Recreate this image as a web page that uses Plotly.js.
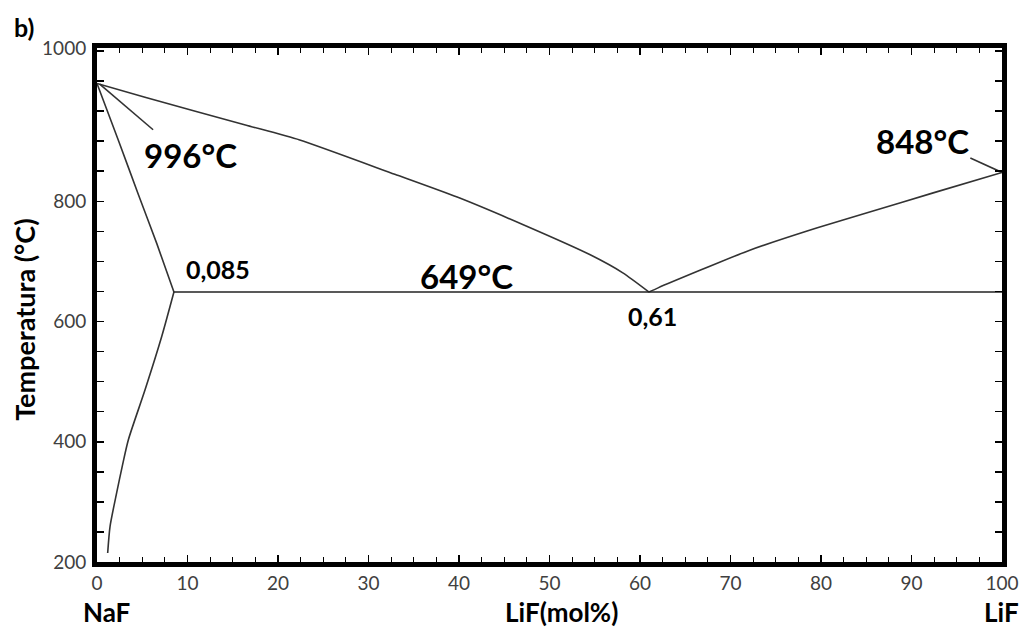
<!DOCTYPE html>
<html>
<head>
<meta charset="utf-8">
<script src="https://cdn.plot.ly/plotly-3.0.1.min.js"></script>
<style>html,body{margin:0;padding:0;background:#fff;}#chart{width:1024px;height:628px;}</style>
</head>
<body>
<div id="chart"></div>
<script>
// Liquidus, NaF side (from NaF melting point to eutectic)
var liqLeftX = [0, 5.3, 16.4, 22.4, 32.9, 39.8, 47.1, 54.5, 58.1, 61];
var liqLeftY = [996, 973, 927, 902, 845, 807, 761, 711, 681, 649];
// Liquidus, LiF side (eutectic to LiF melting point)
var liqRightX = [61, 62, 72.2, 79.6, 85.1, 92.4, 100];
var liqRightY = [649, 656, 719, 756, 781, 814, 848];
// Solidus of NaF-rich solid solution
var solidusX = [0, 2.4, 4.6, 6.6, 8.5];
var solidusY = [996, 900, 810, 730, 649];
// Solvus below eutectic
var solvusX = [8.5, 7.15, 5.3, 3.46, 2.8, 2.17, 1.44, 1.18];
var solvusY = [649, 575, 486, 403, 360, 315, 259, 215];
// Eutectic isotherm
var eutX = [8.5, 100];
var eutY = [649, 649];
// Leader lines for labels
var lead996X = [0.3, 6.2];
var lead996Y = [995, 919];
var lead848X = [96.5, 100];
var lead848Y = [872, 848];

// Tick labels
var xTickVals = [0, 10, 20, 30, 40, 50, 60, 70, 80, 90, 100];
var xTickText = ['0', '10', '20', '30', '40', '50', '60', '70', '80', '90', '100'];
var yTickVals = [200, 400, 600, 800, 1055];
var yTickText = ['200', '400', '600', '800', '1000'];

function tr(x, y, smooth, c, w) {
  return {x: x, y: y, type: 'scatter', mode: 'lines', hoverinfo: 'skip',
          line: {color: c || '#333333', width: w || 1.6,
                 shape: smooth ? 'spline' : 'linear', smoothing: smooth || 0},
          showlegend: false};
}
var data = [
  tr(liqLeftX, liqLeftY, 0.6),
  tr(liqRightX, liqRightY, 0.6),
  tr(solidusX, solidusY, 0.5),
  tr(solvusX, solvusY, 0.7),
  tr(eutX, eutY, 0, '#222222', 1.6),
  tr(lead996X, lead996Y),
  tr(lead848X, lead848Y)
];

var F = 'Lato, "Open Sans", sans-serif';
function ann(text, x, y, size, weight, xref, yref, extra) {
  var a = {text: text, x: x, y: y, xref: xref || 'x', yref: yref || 'y', showarrow: false,
           xanchor: 'center', yanchor: 'middle',
           font: {family: F, size: size, color: '#000', weight: weight || 700}};
  if (extra) for (var k in extra) a[k] = extra[k];
  return a;
}

var layout = {
  width: 1024, height: 628,
  margin: {l: 97, r: 22, t: 48, b: 66},
  paper_bgcolor: '#fff', plot_bgcolor: '#fff',
  showlegend: false,
  xaxis: {
    range: [0, 100], tickmode: 'array', tickvals: xTickVals, ticktext: xTickText,
    showgrid: false, zeroline: false,
    showline: true, linecolor: '#000', linewidth: 5, mirror: 'ticks',
    ticks: 'inside', ticklen: 7, tickwidth: 1.5, tickcolor: '#000',
    minor: {dtick: 2.5, ticks: 'inside', ticklen: 5, tickwidth: 1.2, tickcolor: '#000', showgrid: false},
    tickfont: {family: F, size: 19, color: '#404040'}
  },
  yaxis: {
    range: [200, 1055], tickmode: 'array', tickvals: yTickVals, ticktext: yTickText,
    showgrid: false, zeroline: false,
    showline: true, linecolor: '#000', linewidth: 5, mirror: 'ticks',
    ticks: 'inside', ticklen: 7, tickwidth: 1.5, tickcolor: '#000',
    minor: {tick0: 200, dtick: 50, ticks: 'inside', ticklen: 7, tickwidth: 1.5, tickcolor: '#000', showgrid: false},
    tickfont: {family: F, size: 19, color: '#404040'},
    ticklabelstandoff: 2,
    title: {text: ''}
  },
  annotations: [
    ann('996°C', 10.3, 877, 33),
    ann('848°C', 91.2, 900, 33),
    ann('649°C', 40.8, 676, 33),
    ann('0,085', 13.4, 688, 25, 700),
    ann('0,61', 61.4, 609, 25, 700),
    ann('NaF', 0.011, -0.097, 26, 700, 'paper', 'paper'),
    ann('LiF(mol%)', 0.513, -0.097, 26, 700, 'paper', 'paper'),
    ann('LiF', 0.999, -0.097, 26, 700, 'paper', 'paper'),
    ann('b)', -0.0807, 1.041, 25, 700, 'paper', 'paper'),
    ann('Temperatura (°C)', -0.0796, 0.471, 27, 700, 'paper', 'paper', {textangle: -90})
  ]
};

Plotly.newPlot('chart', data, layout, {displayModeBar: false, staticPlot: true});
</script>
</body>
</html>
